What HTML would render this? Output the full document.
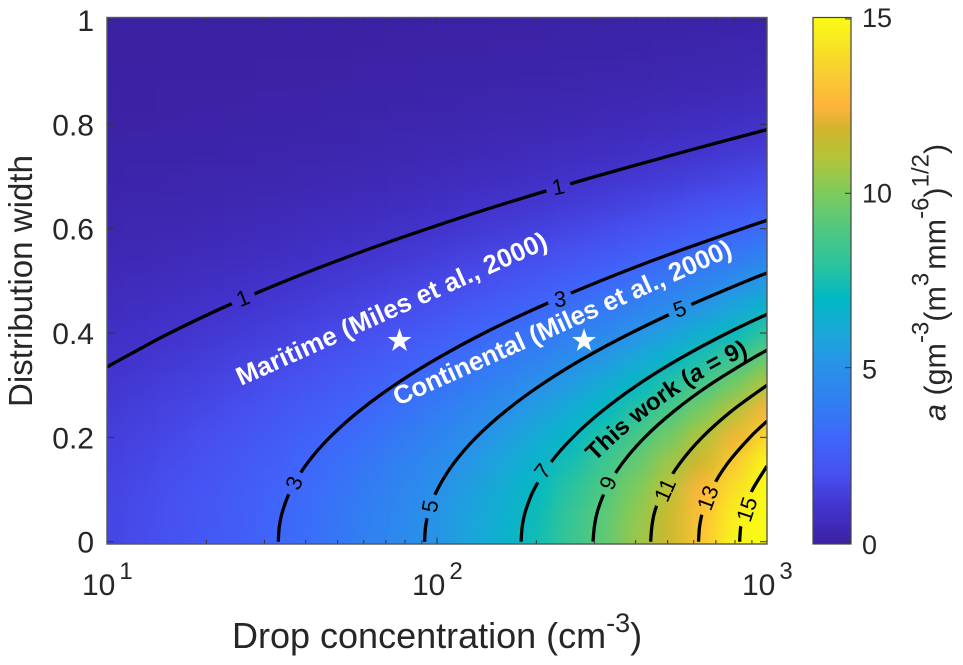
<!DOCTYPE html>
<html lang="en">
<head>
<meta charset="utf-8">
<title>Contour chart of a versus drop concentration and distribution width</title>
<style>
html,body{margin:0;padding:0;background:#fff;width:963px;height:665px;overflow:hidden}
svg{display:block}
text{font-family:"Liberation Sans",Arial,sans-serif;fill:#262626}
.bold{font-weight:700}
</style>
</head>
<body>
<svg id="chart" xmlns="http://www.w3.org/2000/svg" width="963" height="665" viewBox="0 0 963 665">
  <defs>
    <clipPath id="plotClip"><rect x="107" y="17.5" width="660" height="526.5"/></clipPath>
    <filter id="smooth" filterUnits="userSpaceOnUse" x="40" y="-50" width="800" height="660" color-interpolation-filters="sRGB">
      <feGaussianBlur stdDeviation="11 9"/>
      <feComponentTransfer><feFuncA type="discrete" tableValues="1 1"/></feComponentTransfer>
    </filter>
    <linearGradient id="cbGradient" x1="0" y1="1" x2="0" y2="0"></linearGradient>
    <mask id="labelGaps" maskUnits="userSpaceOnUse" x="0" y="0" width="963" height="665"></mask>
    <path id="thisWorkPath" d="M595 462 Q668 389 758 350"/>
  </defs>
  <g clip-path="url(#plotClip)">
    <g id="heatmap" filter="url(#smooth)"></g>
    <g id="contours" mask="url(#labelGaps)"></g>
    <g id="contourLabels"></g>
    <g id="stars"></g>
  </g>
  <text class="bold" transform="translate(241 386) rotate(-24.2)" font-size="26" textLength="338" lengthAdjust="spacing" style="fill:#fff">Maritime (Miles et al., 2000)</text>
  <text class="bold" transform="translate(398 406) rotate(-24.2)" font-size="26" textLength="368" lengthAdjust="spacing" style="fill:#fff">Continental (Miles et al., 2000)</text>
  <text class="bold" font-size="24" style="fill:#000"><textPath href="#thisWorkPath">This work (<tspan font-style="italic">a</tspan> = 9)</textPath></text>
  <g id="axes"></g>
  <rect x="107" y="17.5" width="660" height="526.5" fill="none" stroke="#555" stroke-width="1.4"/>
  <text x="232" y="648" font-size="36">Drop concentration (cm<tspan dy="-16" font-size="27">-3</tspan><tspan dy="16">)</tspan></text>
  <text transform="translate(32 407) rotate(-90)" font-size="33" textLength="252" lengthAdjust="spacing">Distribution width</text>
  <rect id="colorbarFill" x="813" y="17.5" width="38" height="526.5" fill="url(#cbGradient)" stroke="#444" stroke-width="1.2"/>
  <g id="colorbarTicks"></g>
  <text transform="translate(945.5 421) rotate(-90)" font-size="30.5"><tspan font-style="italic">a</tspan> (gm<tspan dy="-17" font-size="24">-3</tspan><tspan dy="17">(m</tspan><tspan dy="-17" font-size="24">3</tspan><tspan dy="17" dx="3">mm</tspan><tspan dy="-17" font-size="24">-6</tspan><tspan dy="17">)</tspan><tspan dy="-17" font-size="24">1/2</tspan><tspan dy="17">)</tspan></text>
</svg>
<script>
// ---- Data ----
const concentrationGrid = [10,12.6,15.8,20,25.1,31.6,39.8,50.1,63.1,79.4,100,125.9,158.5,199.5,251.2,316.2,398.1,501.2,631,794.3,1000];
const widthGrid = [0,0.05,0.1,0.15,0.2,0.25,0.3,0.35,0.4,0.45,0.5,0.55,0.6,0.65,0.7,0.75,0.8,0.85,0.9,0.95,1];
const heatmapValues = [
[1.65,1.85,2.08,2.33,2.62,2.94,3.29,3.70,4.15,4.65,5.22,5.86,6.57,7.37,8.27,9.28,10.42,11.69,13.11,14.71,16.51],
[1.63,1.83,2.05,2.31,2.59,2.90,3.26,3.65,4.10,4.60,5.16,5.79,6.50,7.29,8.18,9.18,10.30,11.56,12.97,14.55,16.32],
[1.58,1.77,1.99,2.23,2.50,2.81,3.15,3.53,3.96,4.45,4.99,5.60,6.28,7.05,7.91,8.87,9.96,11.17,12.54,14.07,15.78],
[1.49,1.67,1.88,2.11,2.36,2.65,2.98,3.34,3.75,4.20,4.72,5.29,5.94,6.66,7.48,8.39,9.41,10.56,11.85,13.30,14.92],
[1.38,1.55,1.74,1.95,2.19,2.45,2.75,3.09,3.46,3.89,4.36,4.89,5.49,6.16,6.91,7.75,8.70,9.76,10.95,12.29,13.79],
[1.25,1.40,1.57,1.76,1.97,2.22,2.49,2.79,3.13,3.51,3.94,4.42,4.96,5.57,6.25,7.01,7.86,8.82,9.90,11.11,12.46],
[1.10,1.24,1.39,1.56,1.74,1.96,2.20,2.46,2.77,3.10,3.48,3.91,4.38,4.92,5.52,6.19,6.95,7.80,8.75,9.81,11.01],
[0.95,1.07,1.20,1.34,1.51,1.69,1.90,2.13,2.39,2.68,3.01,3.37,3.79,4.25,4.77,5.35,6.00,6.73,7.56,8.48,9.51],
[0.80,0.90,1.01,1.14,1.27,1.43,1.60,1.80,2.02,2.26,2.54,2.85,3.20,3.59,4.03,4.52,5.07,5.69,6.38,7.16,8.04],
[0.66,0.74,0.84,0.94,1.05,1.18,1.32,1.49,1.67,1.87,2.10,2.35,2.64,2.96,3.33,3.73,4.19,4.70,5.27,5.91,6.64],
[0.54,0.60,0.67,0.76,0.85,0.95,1.07,1.20,1.35,1.51,1.69,1.90,2.13,2.39,2.69,3.01,3.38,3.79,4.26,4.78,5.36],
[0.42,0.47,0.53,0.60,0.67,0.75,0.84,0.95,1.06,1.19,1.34,1.50,1.68,1.89,2.12,2.38,2.67,3.00,3.36,3.77,4.23],
[0.33,0.37,0.41,0.46,0.52,0.58,0.65,0.73,0.82,0.92,1.03,1.16,1.30,1.46,1.64,1.84,2.06,2.31,2.60,2.91,3.27],
[0.25,0.28,0.31,0.35,0.39,0.44,0.49,0.55,0.62,0.69,0.78,0.88,0.98,1.10,1.24,1.39,1.56,1.75,1.96,2.20,2.47],
[0.18,0.20,0.23,0.26,0.29,0.32,0.36,0.41,0.46,0.51,0.58,0.65,0.72,0.81,0.91,1.02,1.15,1.29,1.45,1.62,1.82],
[0.13,0.15,0.17,0.19,0.21,0.23,0.26,0.29,0.33,0.37,0.42,0.47,0.52,0.59,0.66,0.74,0.83,0.93,1.04,1.17,1.31],
[0.09,0.10,0.12,0.13,0.15,0.16,0.18,0.21,0.23,0.26,0.29,0.33,0.37,0.41,0.46,0.52,0.58,0.66,0.74,0.83,0.93],
[0.06,0.07,0.08,0.09,0.10,0.11,0.13,0.14,0.16,0.18,0.20,0.23,0.25,0.29,0.32,0.36,0.40,0.45,0.51,0.57,0.64],
[0.04,0.05,0.05,0.06,0.07,0.08,0.09,0.10,0.11,0.12,0.14,0.15,0.17,0.19,0.22,0.24,0.27,0.31,0.34,0.38,0.43],
[0.03,0.03,0.04,0.04,0.04,0.05,0.06,0.06,0.07,0.08,0.09,0.10,0.11,0.13,0.14,0.16,0.18,0.20,0.23,0.25,0.28],
[0.02,0.02,0.02,0.03,0.03,0.03,0.04,0.04,0.05,0.05,0.06,0.07,0.07,0.08,0.09,0.10,0.12,0.13,0.15,0.16,0.18]
];

const contourLevels = [1,3,5,7,9,11,13,15];
const contour1Conc = [10,11.8,15.5,22.7,34.8,55.8,93.6,164,302,580,1000];
const contour1Width = [0.335,0.36,0.4,0.45,0.5,0.55,0.6,0.65,0.7,0.75,0.79];
const contour3Conc = [33.03,33.3,34.1,36.1,40.4,47.3,58,74.3,99.4,139,204,313,502,842,1000];
const contour3Width = [0,0.03,0.06,0.1,0.15,0.2,0.25,0.3,0.35,0.4,0.45,0.5,0.55,0.6,0.616];
const contour5Conc = [91.7,92.4,94.7,100.3,112.3,131.4,161,206,276,387,568,870,1000];
const contour5Width = [0,0.03,0.06,0.1,0.15,0.2,0.25,0.3,0.35,0.4,0.45,0.5,0.515];
const contour7Conc = [179.8,181.3,185.7,196.7,220,258,316,404,541,759,1000];
const contour7Width = [0,0.03,0.06,0.1,0.15,0.2,0.25,0.3,0.35,0.4,0.436];
const contour9Conc = [297,300,307,325,364,426,522,668,895,1000];
const contour9Width = [0,0.03,0.06,0.1,0.15,0.2,0.25,0.3,0.35,0.367];
const contour11Conc = [444,448,458,486,544,636,779,1000];
const contour11Width = [0,0.03,0.06,0.1,0.15,0.2,0.25,0.3];
const contour13Conc = [620,625,640,678,759,888,1000];
const contour13Width = [0,0.03,0.06,0.1,0.15,0.2,0.231];
const contour15Conc = [826,833,853,904,1000];
const contour15Width = [0,0.03,0.06,0.1,0.145];
const contourConcs = [contour1Conc,contour3Conc,contour5Conc,contour7Conc,contour9Conc,contour11Conc,contour13Conc,contour15Conc];
const contourWidths = [contour1Width,contour3Width,contour5Width,contour7Width,contour9Width,contour11Width,contour13Width,contour15Width];

const labelTexts = ["1","1","3","3","5","5","7","9","11","13","15"];
const labelConc = [25.8,233,36.9,236,95.3,544,209,330,491,662,869];
const labelWidth = [0.467,0.68,0.1125,0.465,0.068,0.446,0.1355,0.1125,0.099,0.084,0.062];
const labelAngles = [-22,-12,-68,-6,-80,-20,-52,-68,-66,-70,-72];

const starConc = [77,279];
const starWidth = [0.385,0.385];

const xMajorExponents = [1,2,3];
const xMinorMultipliers = [2,3,4,5,6,7,8,9];
const yTickValues = [0,0.2,0.4,0.6,0.8,1];
const yTickLabels = ["0","0.2","0.4","0.6","0.8","1"];
const colorbarTickValues = [0,5,10,15];
const colorbarTickLabels = ["0","5","10","15"];
const colorStopValues = [0,1,2,3,4,5,6,7,8,9,10,11,11.8,12.5,13.5,15];
const colorStopColors = ["#3b21a2","#4233cc","#4750f0","#3f66fb","#317ef2","#2a90ea","#1aa8d8","#00b8c4","#2ec49c","#50c880","#7ecb5c","#b4c438","#d0b52c","#ffb33c","#f8d030","#f9fb15"];

// ---- Axis functions ----
const NS = "http://www.w3.org/2000/svg";
function xScale(n){ return 107 + 330 * (Math.log10(n) - 1); }
function yScale(w){ return 541.7 - 521.7 * w; }
function cScale(v){ return 542 - 34.87 * v; }
function make(tag, attrs, parent){
  const el = document.createElementNS(NS, tag);
  for (const k in attrs) el.setAttribute(k, attrs[k]);
  parent.appendChild(el);
  return el;
}
function hexToRgb(h){ return [1,3,5].map(i => parseInt(h.substr(i,2),16)); }
function colorFor(v){
  const s = colorStopValues, c = colorStopColors;
  if (v <= s[0]) return c[0];
  if (v >= s[s.length-1]) return c[c.length-1];
  let i = 0;
  while (v > s[i+1]) i++;
  const t = (v - s[i]) / (s[i+1] - s[i]);
  const a = hexToRgb(c[i]), b = hexToRgb(c[i+1]);
  return "rgb(" + a.map((p,k) => Math.round(p + (b[k]-p)*t)).join(",") + ")";
}
function smoothPath(pts){
  let d = "M" + pts[0][0].toFixed(2) + " " + pts[0][1].toFixed(2);
  for (let i = 0; i < pts.length-1; i++){
    const p0 = pts[Math.max(i-1,0)], p1 = pts[i], p2 = pts[i+1], p3 = pts[Math.min(i+2,pts.length-1)];
    const c1 = [p1[0]+(p2[0]-p0[0])/6, p1[1]+(p2[1]-p0[1])/6];
    const c2 = [p2[0]-(p3[0]-p1[0])/6, p2[1]-(p3[1]-p1[1])/6];
    d += "C" + c1[0].toFixed(2) + " " + c1[1].toFixed(2) + " " + c2[0].toFixed(2) + " " + c2[1].toFixed(2) + " " + p2[0].toFixed(2) + " " + p2[1].toFixed(2);
  }
  return d;
}

// ---- Heatmap cells ----
const heatmapGroup = document.getElementById("heatmap");
function edgeBounds(arr, i, scale){
  const c = scale(arr[i]);
  const prev = i > 0 ? scale(arr[i-1]) : c - (scale(arr[1]) - c);
  const next = i < arr.length-1 ? scale(arr[i+1]) : c + (c - scale(arr[i-1]));
  return [(prev + c) / 2, (c + next) / 2];
}
heatmapValues.forEach((row, r) => {
  const yb = edgeBounds(widthGrid, r, yScale);
  row.forEach((v, c) => {
    const xb = edgeBounds(concentrationGrid, c, xScale);
    const cell = make("rect", {x:xb[0], y:Math.min(yb[0],yb[1])-0.3, width:xb[1]-xb[0]+0.5, height:Math.abs(yb[1]-yb[0])+0.6, fill:colorFor(v)}, heatmapGroup);
    
    
  });
});

// ---- Label gaps, contours, labels ----
const gapMask = document.getElementById("labelGaps");
make("rect", {x:0, y:0, width:963, height:665, fill:"#fff"}, gapMask);
labelTexts.forEach((t, i) => {
  make("circle", {cx:xScale(labelConc[i]), cy:yScale(labelWidth[i]), r:t.length > 1 ? 18 : 12.5, fill:"#000"}, gapMask);
});
const contourGroup = document.getElementById("contours");
contourLevels.forEach((lvl, i) => {
  const pts = contourConcs[i].map((n, k) => [xScale(n), yScale(contourWidths[i][k])]);
  const line = make("path", {d:smoothPath(pts), fill:"none", stroke:"#000", "stroke-width":3.3}, contourGroup);
  
  
});
const labelGroup = document.getElementById("contourLabels");
labelTexts.forEach((t, i) => {
  const lx = xScale(labelConc[i]), ly = yScale(labelWidth[i]);
  const label = make("text", {x:0, y:0, "font-size":22, "text-anchor":"middle", "dominant-baseline":"central", transform:"translate("+lx+" "+ly+") rotate("+labelAngles[i]+")", style:"fill:#000"}, labelGroup);
  label.textContent = t;
  
  
});

// ---- Stars ----
const starGroup = document.getElementById("stars");
starConc.forEach((n, i) => {
  const cx = xScale(n), cy = yScale(starWidth[i]);
  const pts = [];
  for (let k = 0; k < 10; k++){
    const r = k % 2 ? 4.9 : 12.6, a = -Math.PI/2 + k * Math.PI/5;
    pts.push((cx + r*Math.cos(a)).toFixed(2) + "," + (cy + r*Math.sin(a)).toFixed(2));
  }
  const star = make("polygon", {points:pts.join(" "), fill:"#fff"}, starGroup);
  
  
});

// ---- Axes ----
const axes = document.getElementById("axes");
const tickStyle = {stroke:"#333", "stroke-width":1};
function tick(x1,y1,x2,y2,name,parent){
  const t = make("line", Object.assign({x1:x1,y1:y1,x2:x2,y2:y2}, tickStyle), parent);
  
  
}
xMajorExponents.forEach(e => {
  const px = xScale(Math.pow(10,e));
  tick(px,544,px,537.5,'x-major-tick',axes);
  tick(px,17.5,px,24,'x-major-tick-top',axes);
  const lbl = make("text", {x:px-25, y:595, "font-size":30}, axes);
  
  
  lbl.textContent = "10";
  const sup = make("tspan", {dy:-16, dx:4, "font-size":24}, lbl);
  sup.textContent = String(e);
  if (e < 3) xMinorMultipliers.forEach(m => {
    const mx = xScale(m*Math.pow(10,e));
    tick(mx,544,mx,540,'x-minor-tick',axes);
    tick(mx,17.5,mx,21.5,'x-minor-tick-top',axes);
  });
});
yTickValues.forEach((v, i) => {
  const py = yScale(v);
  tick(107,py,114,py,'y-tick',axes);
  tick(767,py,760,py,'y-tick-right',axes);
  const lbl = make("text", {x:94, y:py+11, "font-size":30, "text-anchor":"end"}, axes);
  
  
  lbl.textContent = yTickLabels[i];
});

// ---- Colorbar ----
const gradient = document.getElementById("cbGradient");
const cbMin = colorStopValues[0], cbMax = colorStopValues[colorStopValues.length-1];
colorStopValues.forEach((v, i) => {
  make("stop", {offset:(v-cbMin)/(cbMax-cbMin), "stop-color":colorStopColors[i]}, gradient);
});
const cbTicks = document.getElementById("colorbarTicks");
colorbarTickValues.forEach((v, i) => {
  const py = cScale(v);
  tick(851,py,845,py,'colorbar-tick',cbTicks);
  const lbl = make("text", {x:862, y:py+12-(v/15)*4, "font-size":27}, cbTicks);
  
  
  lbl.textContent = colorbarTickLabels[i];
});
</script>
</body>
</html>
